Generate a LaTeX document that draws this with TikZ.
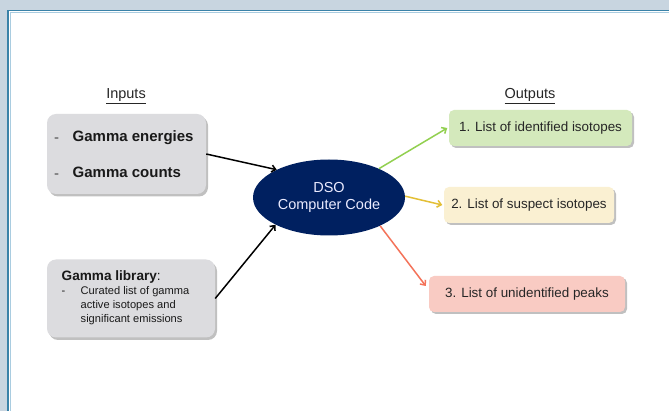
\documentclass[tikz,border=0pt]{standalone}
\usepackage{fontspec}
\setmainfont{Liberation Sans}
\usetikzlibrary{shapes.geometric,shadows,arrows.meta}
\definecolor{bgblue}{HTML}{C8D5E0}
\definecolor{frameblue}{HTML}{3A82A8}
\definecolor{framelight}{HTML}{A9CCE0}
\definecolor{ingrey}{HTML}{DCDCDF}
\definecolor{navy}{HTML}{002060}
\definecolor{okgreen}{HTML}{D4E9BC}
\definecolor{susyellow}{HTML}{FAF0D2}
\definecolor{unkpink}{HTML}{F9CBC3}
\definecolor{arrgreen}{HTML}{92D050}
\definecolor{arryellow}{HTML}{E3BF35}
\definecolor{arrred}{HTML}{F4735A}
\tikzset{
  inbox/.style={draw=none, fill=ingrey, rounded corners=9pt,
    drop shadow={shadow xshift=2pt, shadow yshift=-2.5pt, opacity=0.35, fill=black!70}},
  outbox/.style={draw=none, rounded corners=5pt, minimum height=36pt,
    font=\fontsize{13.4}{16}\selectfont, text=black!85,
    drop shadow={shadow xshift=2pt, shadow yshift=-2pt, opacity=0.35, fill=black!70}},
  conn/.style={line width=1.5pt, -{Straight Barb[length=4pt,width=7pt,line width=1.5pt]}},
  head/.style={anchor=base, font=\fontsize{14.5}{17}\selectfont, text=black!85},
  txt/.style={anchor=base west, inner sep=0pt, text=black!90},
}
\begin{document}
\begin{tikzpicture}[x=1pt,y=-1pt]
\useasboundingbox (0,0) rectangle (669,411);
\fill[bgblue] (0,0) rectangle (669,411);
\fill[white] (8,11) rectangle (669,411);
\draw[framelight, line width=1pt] (10,411) -- (10,12.5) -- (669,12.5);
\draw[frameblue, line width=1.3pt] (8,411) -- (8,10.6) -- (669,10.6);

% headings
\node[head] (hin) at (126,99) {\underline{Inputs}};
\node[head] (hout) at (530,99) {\underline{Outputs}};

% input boxes
\node[inbox, minimum width=159pt, minimum height=80pt] (in1) at (126.5,154) {};
\node[txt, font=\fontsize{15}{18}\selectfont, text=black!70] (d1) at (54,142.5) {-};
\node[txt, font=\bfseries\fontsize{15}{18}\selectfont] (t1) at (72.5,141.5) {Gamma energies};
\node[txt, font=\fontsize{15}{18}\selectfont, text=black!70] (d2) at (54,178.5) {-};
\node[txt, font=\bfseries\fontsize{15}{18}\selectfont] (t2) at (72.5,177.5) {Gamma counts};

\node[inbox, minimum width=168pt, minimum height=78pt] (in2) at (131,298.5) {};
\node[txt, font=\fontsize{13.6}{16}\selectfont] (lib) at (61.5,281) {\textbf{Gamma library}:};
\node[txt, font=\fontsize{11.1}{14}\selectfont] (d3) at (61.5,295) {-};
\node[txt, font=\fontsize{11.1}{14}\selectfont] (l1) at (80.5,295) {Curated list of gamma};
\node[txt, font=\fontsize{11.1}{14}\selectfont] (l2) at (80.5,309) {active isotopes and};
\node[txt, font=\fontsize{11.1}{14}\selectfont] (l3) at (80.5,323) {significant emissions};

% central ellipse
\node[ellipse, fill=navy, minimum width=152pt, minimum height=76pt, inner sep=0pt,
  text=white!92!blue, align=center, font=\fontsize{14.5}{16.5}\selectfont] (dso) at (329,197.5)
  {DSO\\Computer Code};

% outputs
\node[outbox, fill=okgreen, minimum width=183pt] (out1) at (540.5,128) {1. List of identified isotopes};
\node[outbox, fill=susyellow, minimum width=170pt] (out2) at (529,205) {2. List of suspect isotopes};
\node[outbox, fill=unkpink, minimum width=196pt] (out3) at (527,294) {3. List of unidentified peaks};

% connectors
\draw[conn, black] (in1.east) -- (dso.152);
\draw[conn, black] (in2.east) -- (dso.207);
\draw[conn, arrgreen] (dso.30) -- ([xshift=-1.5pt]out1.west);
\draw[conn, arryellow] (dso.1) -- ([xshift=-1.5pt]out2.west);
\draw[conn, arrred] (dso.-29) -- ([xshift=-3pt,yshift=8pt]out3.west);
\end{tikzpicture}
\end{document}
